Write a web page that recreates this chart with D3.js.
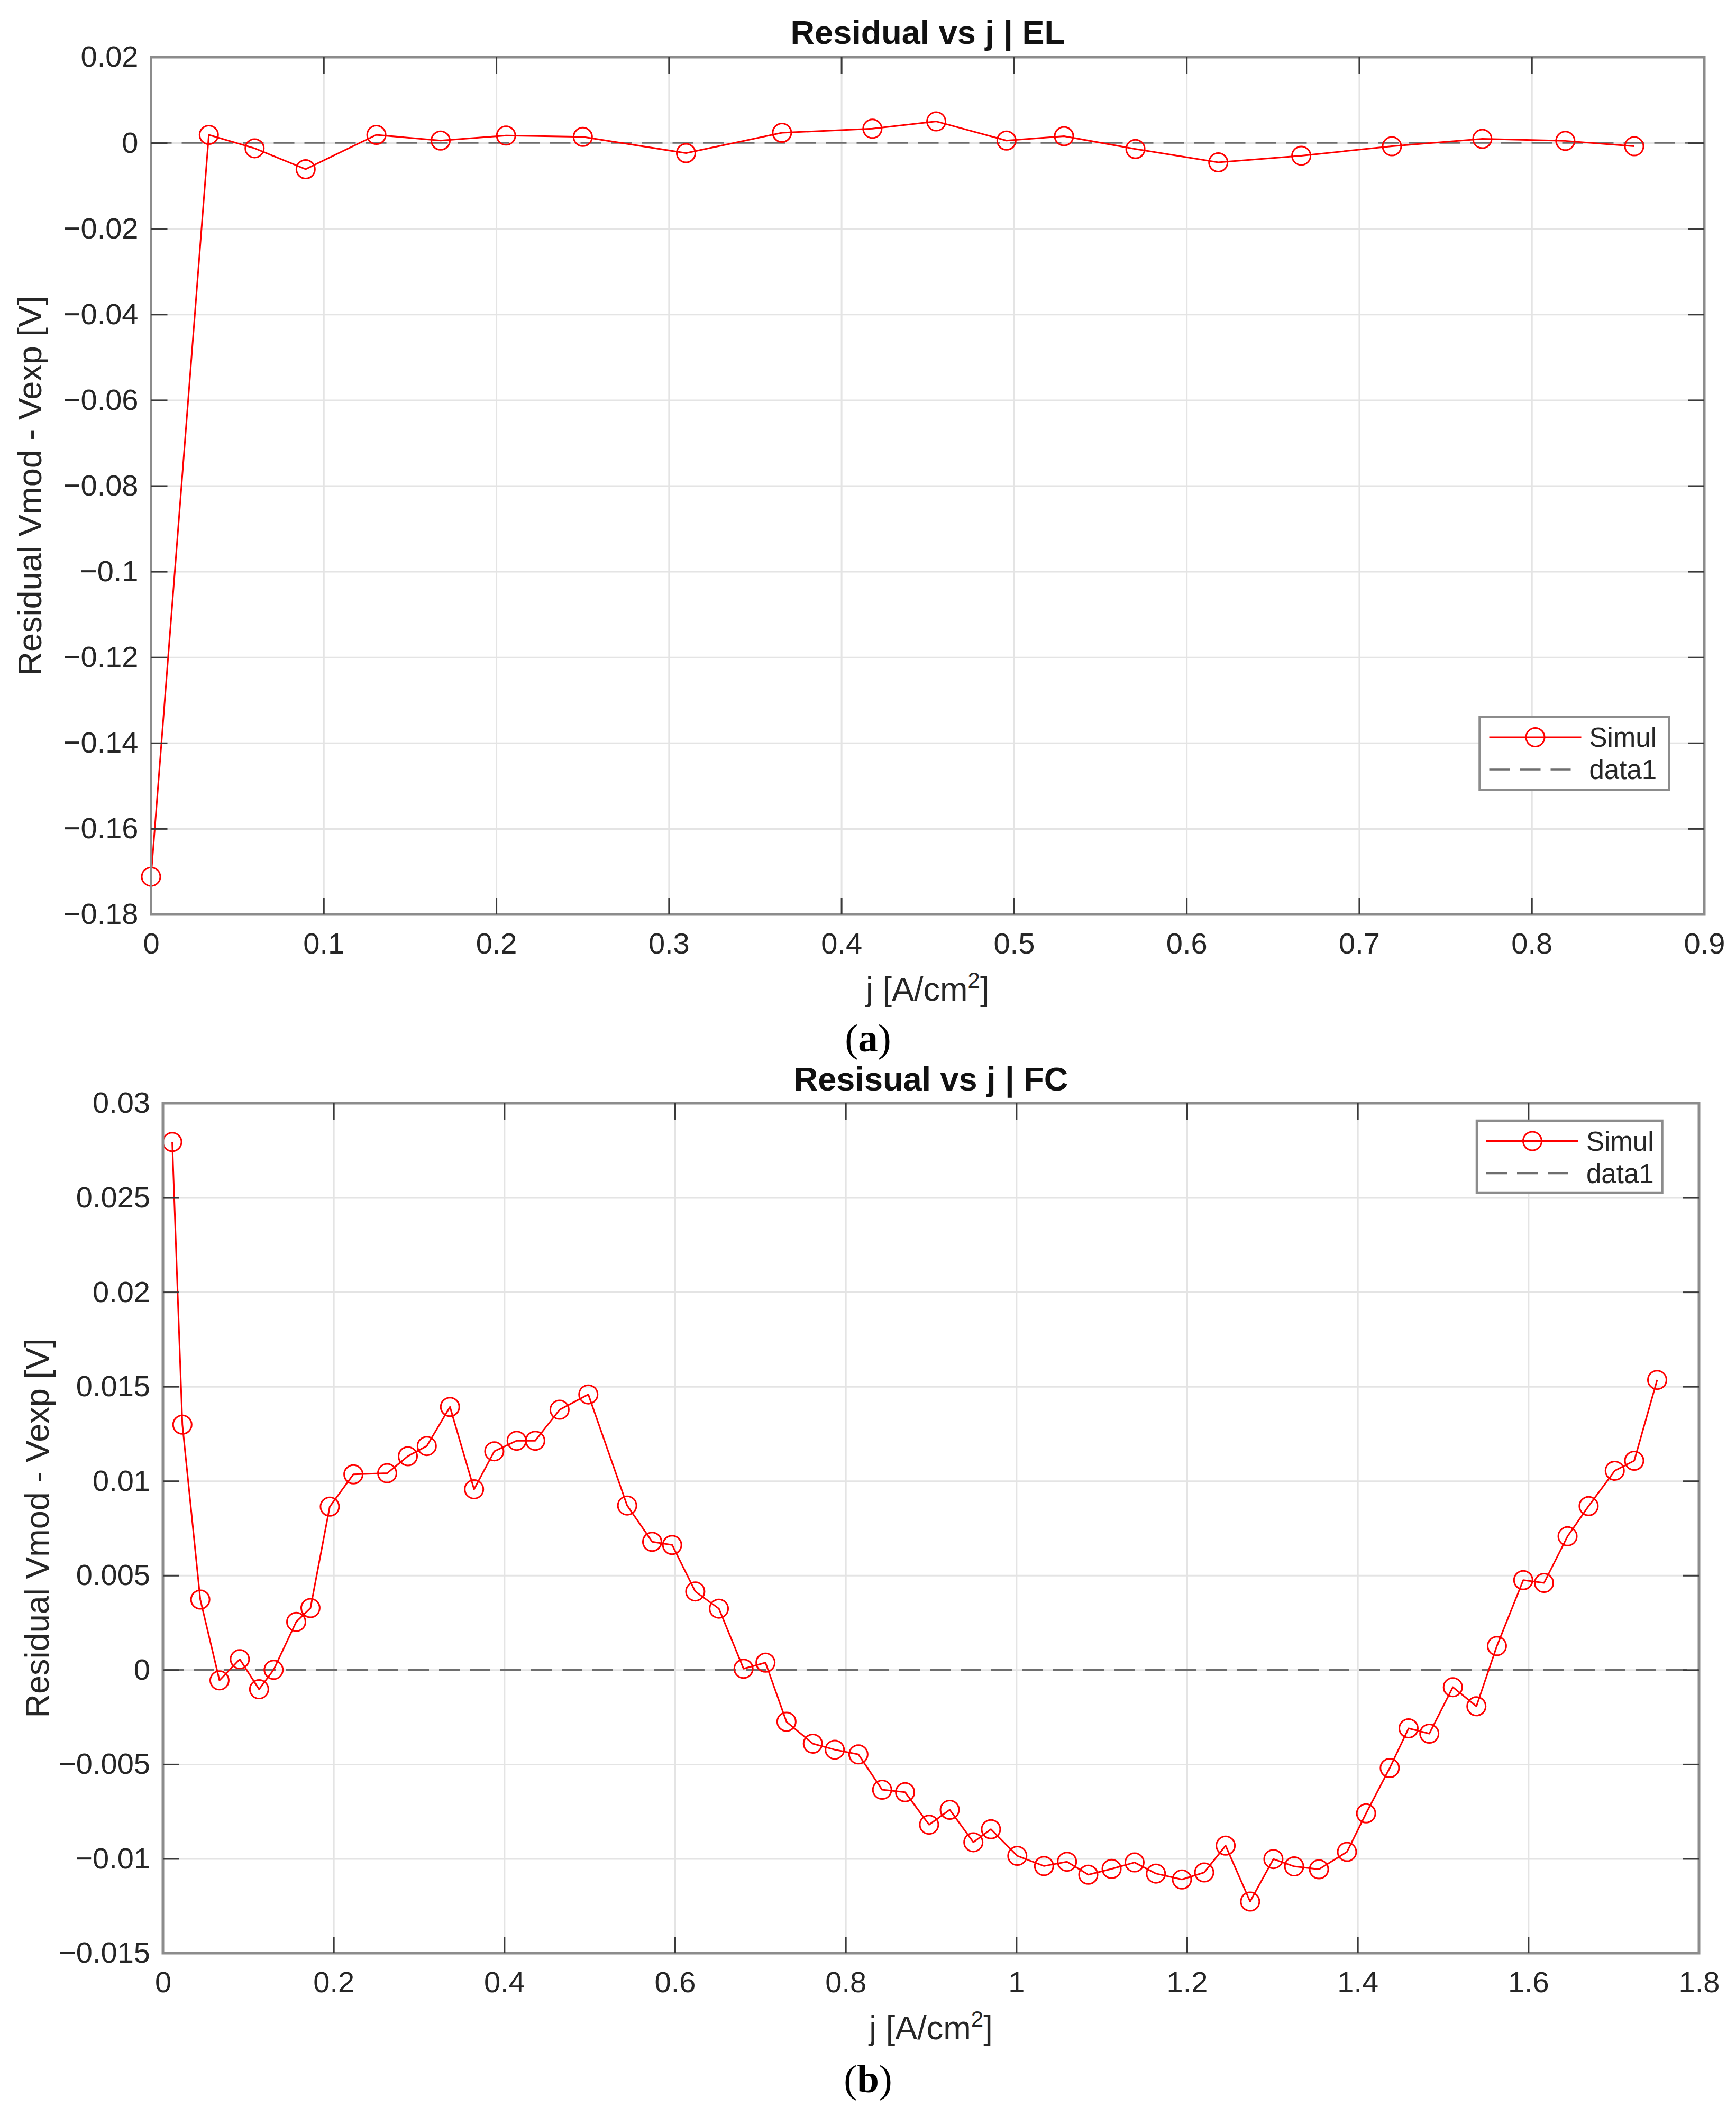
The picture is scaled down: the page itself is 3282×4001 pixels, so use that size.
<!DOCTYPE html>
<html>
<head>
<meta charset="utf-8">
<script src="https://cdn.jsdelivr.net/npm/d3@7/dist/d3.min.js"></script>
<style>
  html, body { margin: 0; padding: 0; background: #fff; }
  svg { display: block; }
</style>
</head>
<body>
<div id="chart"></div>
<script>
// ---- data ----
// (a) electrolyser: current density and residual
const jEL = [0.0, 0.0335, 0.060, 0.0896, 0.1306, 0.1678, 0.2057, 0.2502, 0.310, 0.3656, 0.418,
             0.455, 0.4957, 0.529, 0.5704, 0.6184, 0.6665, 0.719, 0.7714, 0.8195, 0.8594];
const resEL = [-0.1712, 0.00187, -0.00127, -0.00615, 0.00187, 0.00053, 0.0017, 0.0014, -0.0024, 0.00236, 0.0033,
               0.0050, 0.00054, 0.00156, -0.00143, -0.00456, -0.0030, -0.0008, 0.00093, 0.00046, -0.0008];

// (b) fuel cell: current density and residual
const jFC = [0.0109, 0.0228, 0.0438, 0.0663, 0.0901, 0.1127, 0.1297, 0.1562, 0.1729, 0.1955,
             0.2232, 0.2628, 0.2870, 0.3092, 0.3364, 0.3646, 0.3883, 0.4145, 0.4363, 0.4648,
             0.4985, 0.5440, 0.5733, 0.5967, 0.6238, 0.6515, 0.6804, 0.7061, 0.7307, 0.7616,
             0.7873, 0.8150, 0.8428, 0.8697, 0.8978, 0.9220, 0.9497, 0.9703, 1.0012, 1.0325,
             1.0594, 1.0844, 1.1117, 1.1386, 1.1636, 1.1941, 1.2202, 1.2453, 1.2740, 1.3013,
             1.3256, 1.3547, 1.3875, 1.4099, 1.4376, 1.4597, 1.4840, 1.5116, 1.5392, 1.5632,
             1.5941, 1.6184, 1.6460, 1.6707, 1.7013, 1.7241, 1.7510];
const resFC = [0.02795, 0.01298, 0.00372, -0.00056, 0.00056, -0.00103, 0.0000, 0.00254, 0.00327, 0.00864,
               0.01035, 0.01041, 0.01131, 0.01185, 0.01392, 0.00956, 0.01157, 0.01213, 0.01213, 0.01377,
               0.01458, 0.00870, 0.00678, 0.00661, 0.00415, 0.00324, 0.00006, 0.00038, -0.00275, -0.00391,
               -0.00423, -0.00448, -0.00635, -0.00648, -0.00820, -0.00741, -0.00913, -0.00844, -0.00985, -0.01039,
               -0.01016, -0.01085, -0.01054, -0.01020, -0.01079, -0.01110, -0.01073, -0.00931, -0.01227, -0.01002,
               -0.01041, -0.01056, -0.00964, -0.00760, -0.00520, -0.00310, -0.00338, -0.00092, -0.00193, 0.00126,
               0.00475, 0.00460, 0.00707, 0.00867, 0.01054, 0.01107, 0.01535];

// tick labels
const xTicksEL = [0, 0.1, 0.2, 0.3, 0.4, 0.5, 0.6, 0.7, 0.8, 0.9];
const yTicksEL = [0.02, 0, -0.02, -0.04, -0.06, -0.08, -0.1, -0.12, -0.14, -0.16, -0.18];
const xTicksFC = [0, 0.2, 0.4, 0.6, 0.8, 1, 1.2, 1.4, 1.6, 1.8];
const yTicksFC = [0.03, 0.025, 0.02, 0.015, 0.01, 0.005, 0, -0.005, -0.01, -0.015];

// texts
const titles = ["Residual vs j | EL", "Resisual vs j | FC"];
const captions = ["a", "b"];
const legendLabels = ["Simul", "data1"];
const yLabel = "Residual Vmod - Vexp [V]";

// ---- drawing ----
const W = 3282, H = 4001;
const svg = d3.select('#chart').append('svg')
    .attr('width', W).attr('height', H)
    .style('font-family', '"Liberation Sans", Arial, Helvetica, sans-serif');

svg.append('rect').attr('width', W).attr('height', H).attr('fill', '#fff');

const fmt = v => {
    if (Math.abs(v) < 1e-12) return '0';
    return String(+v.toFixed(4)).replace('-', '\u2212');
};

function drawPanel(p) {
    const x = d3.scaleLinear().domain(p.xDomain).range([p.left, p.right]);
    const y = d3.scaleLinear().domain(p.yDomain).range([p.bottom, p.top]);
    const g = svg.append('g');
    const w = p.right - p.left, h = p.bottom - p.top;

    // grid
    g.append('g').attr('transform', `translate(0,${p.bottom})`)
        .call(d3.axisBottom(x).tickValues(p.xTicks).tickSize(-h).tickFormat(''))
        .call(s => s.select('.domain').remove())
        .selectAll('line').attr('stroke', '#e4e4e4').attr('stroke-width', 3);
    g.append('g').attr('transform', `translate(${p.left},0)`)
        .call(d3.axisLeft(y).tickValues(p.yTicks).tickSize(-w).tickFormat(''))
        .call(s => s.select('.domain').remove())
        .selectAll('line').attr('stroke', '#e4e4e4').attr('stroke-width', 3);

    // zero reference (data1)
    g.append('line')
        .attr('x1', p.left).attr('x2', p.right)
        .attr('y1', y(0)).attr('y2', y(0))
        .attr('stroke', '#6e6e6e').attr('stroke-width', 3.5)
        .attr('stroke-dasharray', '39,19');

    // series
    const pts = p.xs.map((d, i) => [d, p.ys[i]]);
    g.append('path')
        .datum(pts)
        .attr('fill', 'none')
        .attr('stroke', '#ff0000')
        .attr('stroke-width', 3)
        .attr('stroke-linejoin', 'round')
        .attr('d', d3.line().x(d => x(d[0])).y(d => y(d[1])));
    g.selectAll('circle.mk').data(pts).enter().append('circle')
        .attr('class', 'mk')
        .attr('cx', d => x(d[0])).attr('cy', d => y(d[1]))
        .attr('r', 17.5)
        .attr('fill', 'none').attr('stroke', '#ff0000').attr('stroke-width', 3);

    // box
    g.append('rect')
        .attr('x', p.left).attr('y', p.top).attr('width', w).attr('height', h)
        .attr('fill', 'none').attr('stroke', '#8c8c8c').attr('stroke-width', 5);

    // axes with inward ticks
    const tickLen = 31;
    const axB = g.append('g').attr('transform', `translate(0,${p.bottom})`)
        .call(d3.axisBottom(x).tickValues(p.xTicks).tickSize(-tickLen).tickPadding(34).tickFormat(fmt));
    const axL = g.append('g').attr('transform', `translate(${p.left},0)`)
        .call(d3.axisLeft(y).tickValues(p.yTicks).tickSize(-tickLen).tickPadding(24).tickFormat(fmt));
    const axT = g.append('g').attr('transform', `translate(0,${p.top})`)
        .call(d3.axisTop(x).tickValues(p.xTicks).tickSize(-tickLen).tickFormat(''));
    const axR = g.append('g').attr('transform', `translate(${p.right},0)`)
        .call(d3.axisRight(y).tickValues(p.yTicks).tickSize(-tickLen).tickFormat(''));
    [axB, axL, axT, axR].forEach(a => {
        a.select('.domain').remove();
        a.selectAll('line').attr('stroke', '#3a3a3a').attr('stroke-width', 3);
        a.selectAll('text').attr('fill', '#262626').style('font-size', '56px')
            .style('font-family', '"Liberation Sans", Arial, sans-serif');
    });
    // skip ticks that sit on the box corners
    [axB, axT].forEach(a => a.selectAll('.tick line').filter(d => d === p.xDomain[0] || d === p.xDomain[1]).remove());
    [axL, axR].forEach(a => a.selectAll('.tick line').filter(d => d === p.yDomain[0] || d === p.yDomain[1]).remove());

    // title
    g.append('text')
        .attr('x', (p.left + p.right) / 2).attr('y', p.titleY)
        .attr('text-anchor', 'middle')
        .attr('font-weight', 'bold').attr('font-size', 63).attr('fill', '#111')
        .text(p.title);

    // x label with superscript
    const xl = g.append('text')
        .attr('x', (p.left + p.right) / 2).attr('y', p.bottom + 163)
        .attr('text-anchor', 'middle').attr('font-size', 63).attr('fill', '#262626');
    xl.append('tspan').text('j [A/cm');
    xl.append('tspan').attr('font-size', 42).attr('dy', -24).text('2');
    xl.append('tspan').attr('dy', 24).text(']');

    // y label
    g.append('text')
        .attr('transform', `translate(${p.yLabelX},${(p.top + p.bottom) / 2}) rotate(-90)`)
        .attr('text-anchor', 'middle').attr('font-size', 63).attr('fill', '#262626')
        .text(yLabel);

    // legend
    const lg = g.append('g').attr('transform', `translate(${p.legX},${p.legY})`);
    lg.append('rect').attr('width', p.legW).attr('height', p.legH)
        .attr('fill', '#fff').attr('stroke', '#8c8c8c').attr('stroke-width', 4.5);
    const r1 = 38.5, r2 = 99.5, l0 = 18, l1 = 192, tx = 207;
    lg.append('line').attr('x1', l0).attr('x2', l1).attr('y1', r1).attr('y2', r1)
        .attr('stroke', '#ff0000').attr('stroke-width', 3);
    lg.append('circle').attr('cx', (l0 + l1) / 2).attr('cy', r1).attr('r', 17.5)
        .attr('fill', 'none').attr('stroke', '#ff0000').attr('stroke-width', 3);
    lg.append('line').attr('x1', l0).attr('x2', l1 - 20).attr('y1', r2).attr('y2', r2)
        .attr('stroke', '#6e6e6e').attr('stroke-width', 3.5).attr('stroke-dasharray', '39,19');
    lg.selectAll('text.lt').data(legendLabels).enter().append('text')
        .attr('class', 'lt')
        .attr('x', tx).attr('y', (d, i) => (i === 0 ? r1 : r2) + 18)
        .attr('font-size', 51).attr('fill', '#262626')
        .text(d => d);

    // caption
    const cap = svg.append('text')
        .attr('x', W / 2).attr('y', p.capY)
        .attr('text-anchor', 'middle')
        .style('font-family', '"Liberation Serif", "Times New Roman", serif')
        .attr('font-size', 75).attr('fill', '#000');
    cap.append('tspan').text('(');
    cap.append('tspan').attr('font-weight', 'bold').text(p.caption);
    cap.append('tspan').text(')');
}

drawPanel({
    xs: jEL, ys: resEL, xTicks: xTicksEL, yTicks: yTicksEL,
    xDomain: [0, 0.9], yDomain: [-0.18, 0.02],
    left: 285.5, right: 3222, top: 108, bottom: 1729,
    title: titles[0], titleY: 83, yLabelX: 78,
    legX: 2797.5, legY: 1355.5, legW: 358, legH: 138,
    caption: captions[0], capY: 1988
});

drawPanel({
    xs: jFC, ys: resFC, xTicks: xTicksFC, yTicks: yTicksFC,
    xDomain: [0, 1.8], yDomain: [-0.015, 0.03],
    left: 308, right: 3212, top: 2086, bottom: 3693,
    title: titles[1], titleY: 2062, yLabelX: 92,
    legX: 2792, legY: 2119, legW: 350.5, legH: 136,
    caption: captions[1], capY: 3956
});
</script>
</body>
</html>
